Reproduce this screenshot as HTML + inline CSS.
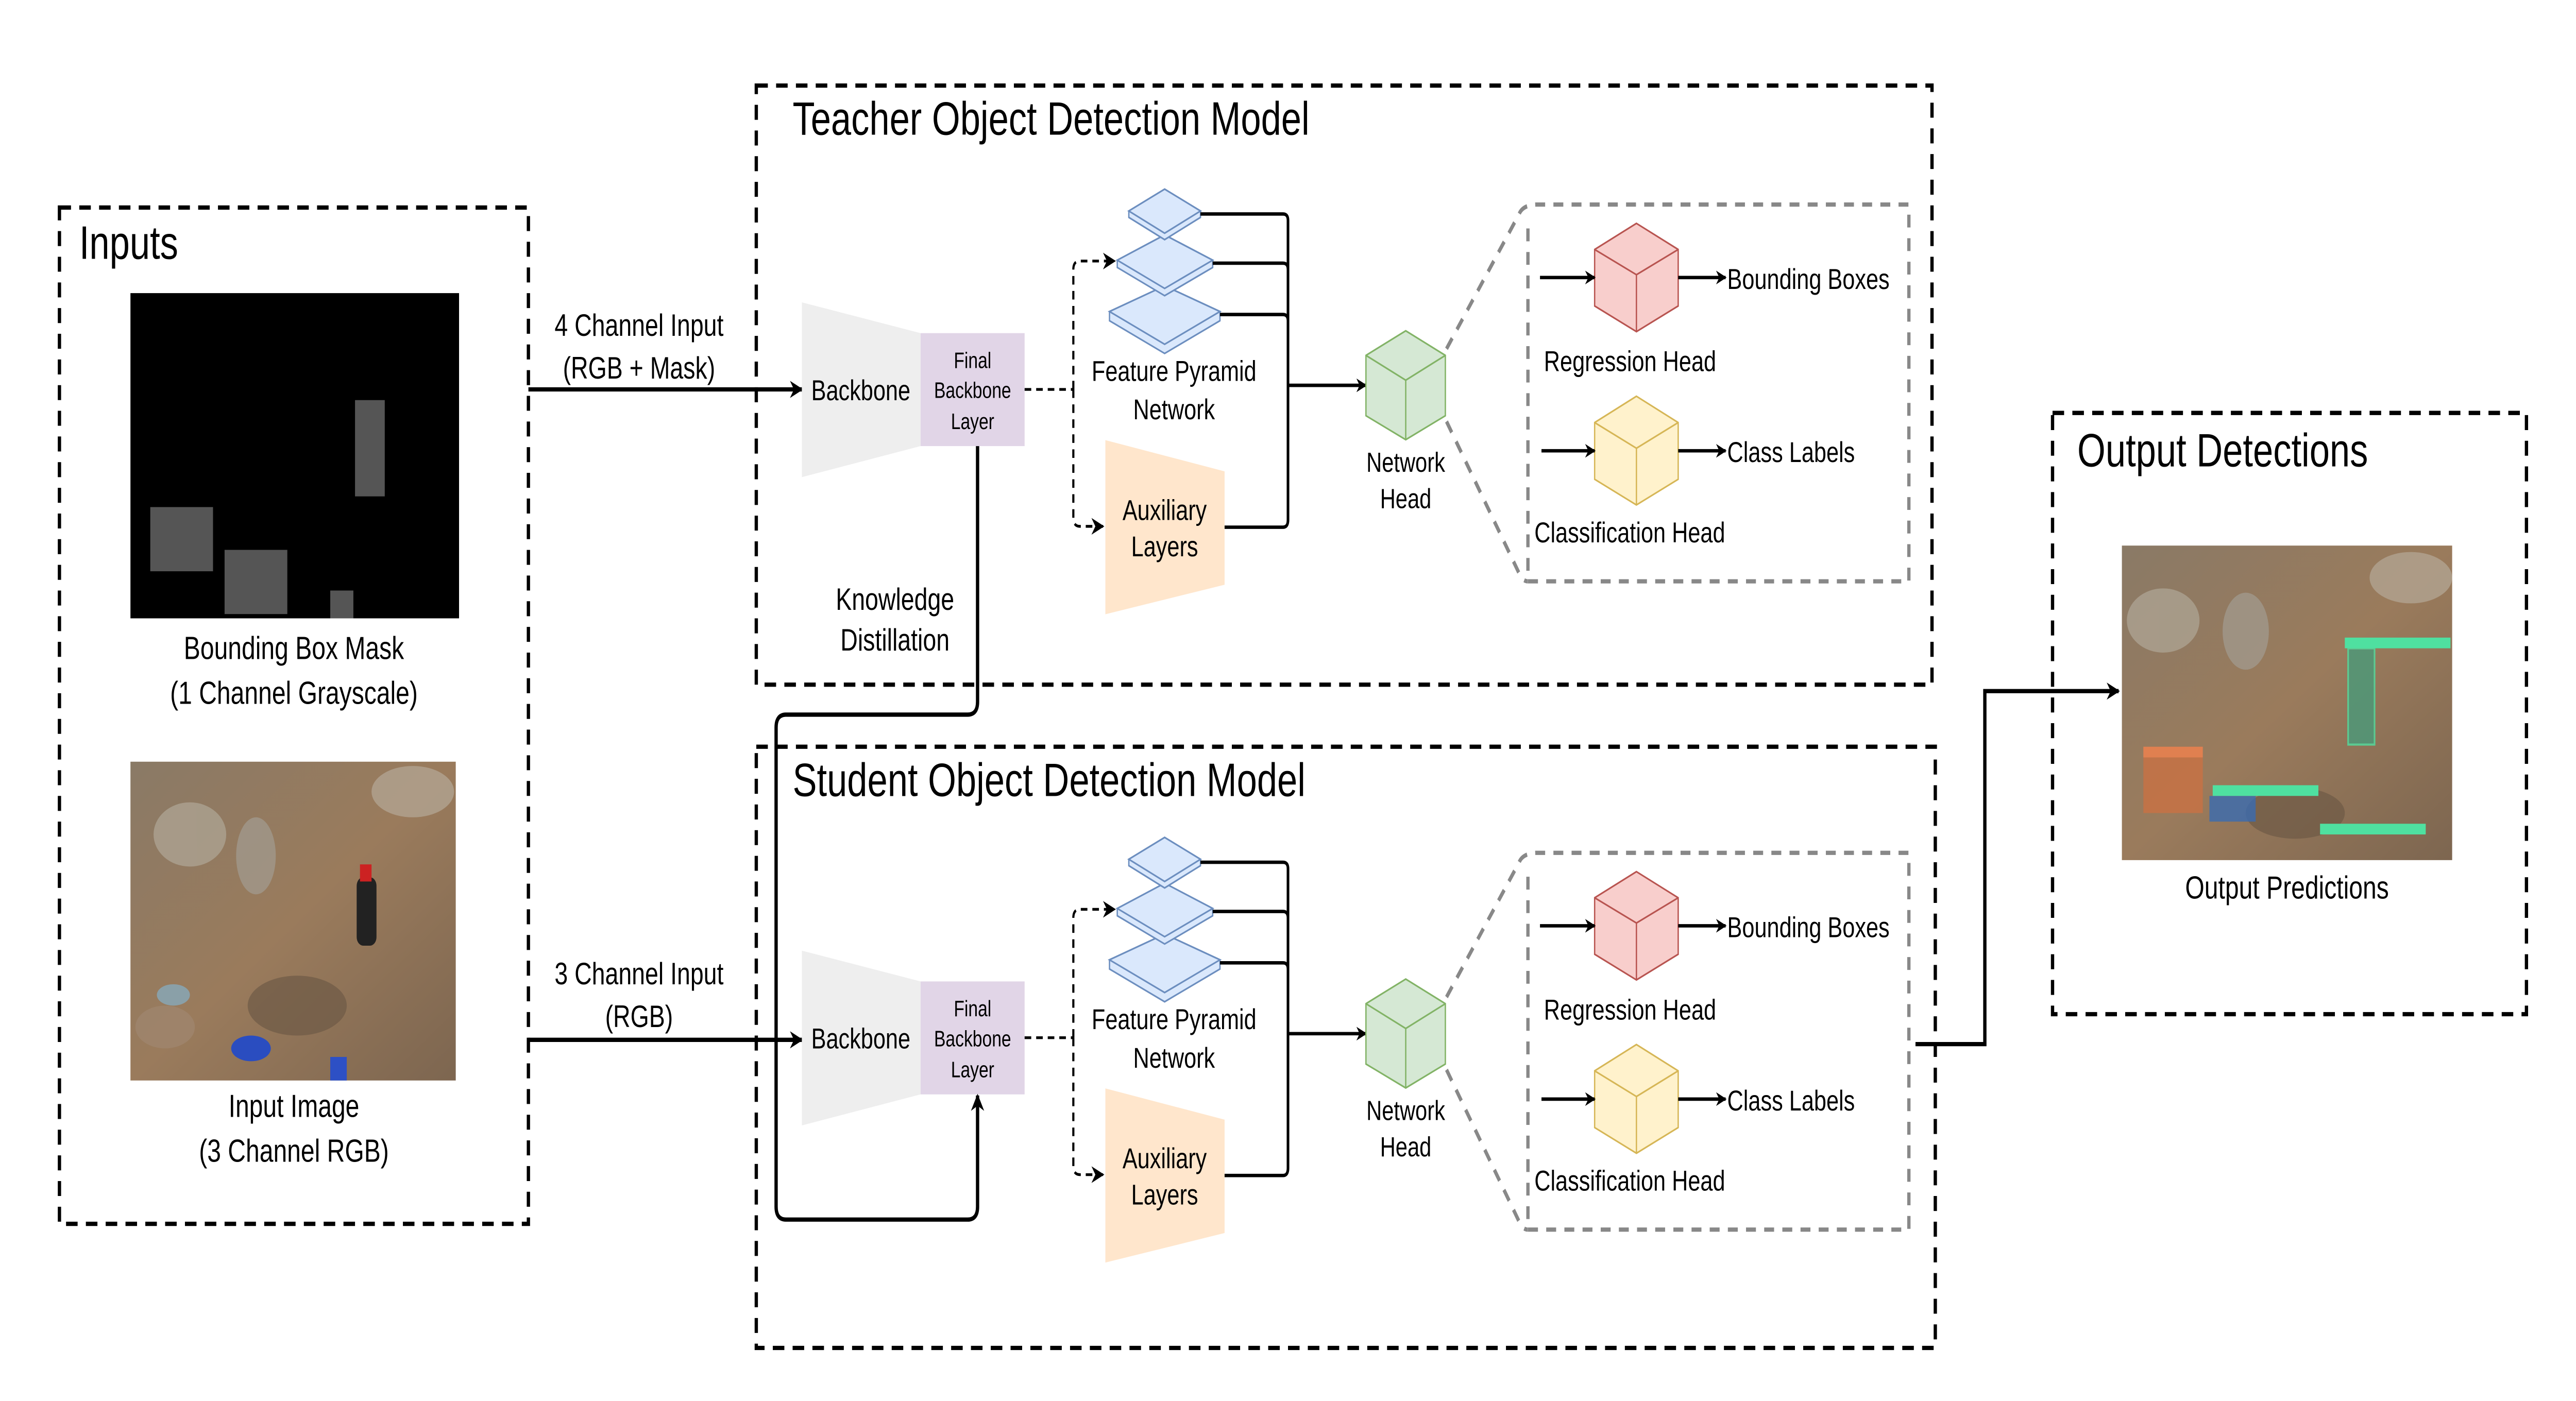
<!DOCTYPE html>
<html><head><meta charset="utf-8">
<style>html,body{margin:0;padding:0;background:#fff;width:100%;height:100%;overflow:hidden}svg{display:block;position:fixed;left:0;top:0;width:100vw;height:100vh}</style></head>
<body>
<svg xmlns="http://www.w3.org/2000/svg" viewBox="0 0 1560 654.8" preserveAspectRatio="none" font-family="Liberation Sans, sans-serif">
<defs>
<marker id="ah" viewBox="0 0 10 10" refX="9" refY="5" markerWidth="4" markerHeight="4" orient="auto" markerUnits="strokeWidth"><path d="M0,0 L10,5 L0,10 L3,5 z" fill="#000"/></marker>
<marker id="ahs" viewBox="0 0 10 10" refX="9" refY="5" markerWidth="6" markerHeight="6" orient="auto" markerUnits="strokeWidth"><path d="M0,0 L10,5 L0,10 L3,5 z" fill="#000"/></marker>
<linearGradient id="dirt" x1="0" y1="0" x2="1" y2="1"><stop offset="0" stop-color="#8a7a66"/><stop offset="0.5" stop-color="#9a7b5c"/><stop offset="1" stop-color="#7d6650"/></linearGradient>
<g id="modelparts">
  <polygon points="485.6,141.3 557.5,155.7 557.5,208.5 485.6,223" fill="#eeeeee"/>
  <rect x="557.5" y="155.7" width="63" height="52.8" fill="#e1d5e7"/>
  <text x="521.3" y="187" font-size="13.5" text-anchor="middle">Backbone</text>
  <text x="589" y="172" font-size="10.5" text-anchor="middle">Final</text>
  <text x="589" y="186" font-size="10.5" text-anchor="middle">Backbone</text>
  <text x="589" y="200.5" font-size="10.5" text-anchor="middle">Layer</text>
  <path d="M620.5,182 H650 M650,182 V126 Q650,122 654,122 H675" fill="none" stroke="#000" stroke-width="1.3" stroke-dasharray="4,3" marker-end="url(#ahs)"/>
  <path d="M650,182 V242 Q650,246 654,246 H668" fill="none" stroke="#000" stroke-width="1.3" stroke-dasharray="4,3" marker-end="url(#ahs)"/>
  <g fill="#dae8fc" stroke="#6c8ebf" stroke-width="0.8">
    <polygon points="671.9,145.6 705.3,133.6 738.8,145.6 738.8,149.9 705.3,165.2 671.9,149.9"/>
    <polygon points="671.9,145.6 705.3,133.6 738.8,145.6 705.3,160.9"/>
    <polygon points="676.6,121.6 705.3,109.8 734.4,121.6 734.4,125 705.3,138.2 676.6,125"/>
    <polygon points="676.6,121.6 705.3,109.8 734.4,121.6 705.3,134.8"/>
    <polygon points="683.6,98.6 705.3,88.4 727,98.6 727,101.6 705.3,112 683.6,101.6"/>
    <polygon points="683.6,98.6 705.3,88.4 727,98.6 705.3,109"/>
  </g>
  <text x="711" y="178" font-size="13.5" text-anchor="middle">Feature Pyramid</text>
  <text x="711" y="196" font-size="13.5" text-anchor="middle">Network</text>
  <polygon points="669.4,205.7 741.6,220.3 741.6,273.3 669.4,287.1" fill="#ffe6cc"/>
  <text x="705.3" y="243" font-size="13.5" text-anchor="middle">Auxiliary</text>
  <text x="705.3" y="260" font-size="13.5" text-anchor="middle">Layers</text>
  <path d="M727,100 H777 Q780,100 780,103 V243 Q780,246.4 777,246.4 H741.6 M734.4,123 H777 Q780,123 780,126 M738.8,147 H777 Q780,147 780,150" fill="none" stroke="#000" stroke-width="1.6"/>
  <line x1="780" y1="180.1" x2="827.2" y2="180.1" stroke="#000" stroke-width="1.6" marker-end="url(#ah)"/>
  <g fill="#d5e8d4" stroke="#82b366" stroke-width="0.8">
    <polygon points="827.2,166.1 851.3,154.6 875.3,166.1 875.3,194.3 851.3,205.5 827.2,194.3"/>
    <polyline points="827.2,166.1 851.3,177.7 875.3,166.1" fill="none"/>
    <line x1="851.3" y1="177.7" x2="851.3" y2="205.5"/>
  </g>
  <text x="851.3" y="220.5" font-size="13" text-anchor="middle">Network</text>
  <text x="851.3" y="237.5" font-size="13" text-anchor="middle">Head</text>
  <g fill="none" stroke="#888" stroke-width="2" stroke-dasharray="6,5">
    <path d="M876,163 L920,100 Q922,96 930,95.6 H1156 V271.7 H925.3 V106"/>
    <path d="M876,197 L920,268 Q922,271.7 925.3,271.7"/>
  </g>
  <g fill="#f8cecc" stroke="#b85450" stroke-width="0.8">
    <polygon points="965.7,116.6 991,104.4 1016.3,116.6 1016.3,143 991,155 965.7,143"/>
    <polyline points="965.7,116.6 991,128.4 1016.3,116.6" fill="none"/>
    <line x1="991" y1="128.4" x2="991" y2="155"/>
  </g>
  <line x1="932.6" y1="129.7" x2="965.7" y2="129.7" stroke="#000" stroke-width="1.6" marker-end="url(#ah)"/>
  <line x1="1016.3" y1="129.7" x2="1045" y2="129.7" stroke="#000" stroke-width="1.6" marker-end="url(#ah)"/>
  <text x="1046" y="135" font-size="13.5">Bounding Boxes</text>
  <text x="935" y="173.5" font-size="13.5">Regression Head</text>
  <g fill="#fff2cc" stroke="#d6b656" stroke-width="0.8">
    <polygon points="965.7,197.5 991,185.2 1016.3,197.5 1016.3,224 991,236 965.7,224"/>
    <polyline points="965.7,197.5 991,209.5 1016.3,197.5" fill="none"/>
    <line x1="991" y1="209.5" x2="991" y2="236"/>
  </g>
  <line x1="933.5" y1="210.7" x2="965.7" y2="210.7" stroke="#000" stroke-width="1.6" marker-end="url(#ah)"/>
  <line x1="1016.3" y1="210.7" x2="1045" y2="210.7" stroke="#000" stroke-width="1.6" marker-end="url(#ah)"/>
  <text x="1046" y="216" font-size="13.5">Class Labels</text>
  <text x="929.2" y="253.5" font-size="13.5">Classification Head</text>
</g>
</defs>

<rect width="1560" height="654.8" fill="#fff"/>

<rect x="36" y="97" width="284" height="475" fill="none" stroke="#000" stroke-width="2" stroke-dasharray="7,5"/>
<text x="48" y="121" font-size="22">Inputs</text>
<rect x="79" y="137" width="199" height="152" fill="#000"/>
<g fill="#555"><rect x="215" y="187" width="18" height="45"/><rect x="91" y="237" width="38" height="30"/><rect x="136" y="257" width="38" height="30"/><rect x="200" y="276" width="14" height="13"/></g>
<text x="178" y="308" font-size="15" text-anchor="middle">Bounding Box Mask</text>
<text x="178" y="329" font-size="15" text-anchor="middle">(1 Channel Grayscale)</text>
<rect x="79" y="356" width="197" height="149" fill="url(#dirt)"/>
<g opacity="0.7">
<ellipse cx="115" cy="390" rx="22" ry="15" fill="#b0a898"/><ellipse cx="155" cy="400" rx="12" ry="18" fill="#a39d92"/>
<ellipse cx="250" cy="370" rx="25" ry="12" fill="#b5aa98"/><ellipse cx="180" cy="470" rx="30" ry="14" fill="#6e5a46"/>
<ellipse cx="100" cy="480" rx="18" ry="10" fill="#a08870"/>
</g>
<rect x="216" y="410" width="12" height="32" rx="4" fill="#222"/><rect x="218" y="404" width="7" height="8" fill="#c22"/>
<ellipse cx="152" cy="490" rx="12" ry="6" fill="#2a4dc0"/><rect x="200" y="494" width="10" height="11" fill="#2d50c5"/>
<ellipse cx="105" cy="465" rx="10" ry="5" fill="#8aa0a8"/>
<text x="178" y="522" font-size="15" text-anchor="middle">Input Image</text>
<text x="178" y="543" font-size="15" text-anchor="middle">(3 Channel RGB)</text>

<rect x="458" y="40" width="712" height="280" fill="none" stroke="#000" stroke-width="2" stroke-dasharray="7,5"/>
<text x="480" y="63" font-size="22">Teacher Object Detection Model</text>
<line x1="320" y1="182" x2="485.6" y2="182" stroke="#000" stroke-width="2" marker-end="url(#ah)"/>
<text x="387" y="157" font-size="14.5" text-anchor="middle">4 Channel Input</text>
<text x="387" y="177" font-size="14.5" text-anchor="middle">(RGB + Mask)</text>
<use href="#modelparts"/>

<rect x="458" y="349" width="714" height="281" fill="none" stroke="#000" stroke-width="2" stroke-dasharray="7,5"/>
<text x="480" y="372" font-size="22">Student Object Detection Model</text>
<line x1="320" y1="486" x2="485.6" y2="486" stroke="#000" stroke-width="2" marker-end="url(#ah)"/>
<text x="387" y="460" font-size="14.5" text-anchor="middle">3 Channel Input</text>
<text x="387" y="480" font-size="14.5" text-anchor="middle">(RGB)</text>
<use href="#modelparts" transform="translate(0,303)"/>

<path d="M592,208.5 V328 Q592,334 586,334 H476 Q470,334 470,340 V564 Q470,570 476,570 H586 Q592,570 592,564 V512" fill="none" stroke="#000" stroke-width="2" marker-end="url(#ah)"/>
<text x="542" y="285" font-size="14.5" text-anchor="middle">Knowledge</text>
<text x="542" y="304" font-size="14.5" text-anchor="middle">Distillation</text>

<rect x="1243" y="193" width="287" height="281" fill="none" stroke="#000" stroke-width="2" stroke-dasharray="7,5"/>
<text x="1258" y="218" font-size="22">Output Detections</text>
<rect x="1285" y="255" width="200" height="147" fill="url(#dirt)"/>
<g opacity="0.7"><ellipse cx="1310" cy="290" rx="22" ry="15" fill="#b0a898"/><ellipse cx="1360" cy="295" rx="14" ry="18" fill="#a39d92"/><ellipse cx="1460" cy="270" rx="25" ry="12" fill="#b5aa98"/><ellipse cx="1390" cy="380" rx="30" ry="12" fill="#6e5a46"/></g>
<rect x="1422" y="303" width="16" height="45" fill="#4a9a7a" opacity="0.8" stroke="#4fe0a0" stroke-width="1"/>
<rect x="1420" y="298" width="64" height="5" fill="#4fe0a0"/>
<rect x="1298" y="354" width="36" height="26" fill="#d07040" opacity="0.7"/>
<rect x="1298" y="349" width="36" height="5" fill="#e08050"/>
<rect x="1338" y="372" width="28" height="12" fill="#3a6bb0" opacity="0.8"/>
<rect x="1340" y="367" width="64" height="5" fill="#4fe0a0"/>
<rect x="1405" y="385" width="64" height="5" fill="#4fe0a0"/>
<text x="1385" y="420" font-size="15" text-anchor="middle">Output Predictions</text>
<path d="M1160,488 H1202 V323 H1283" fill="none" stroke="#000" stroke-width="2" marker-end="url(#ah)"/>
</svg>
</body></html>
